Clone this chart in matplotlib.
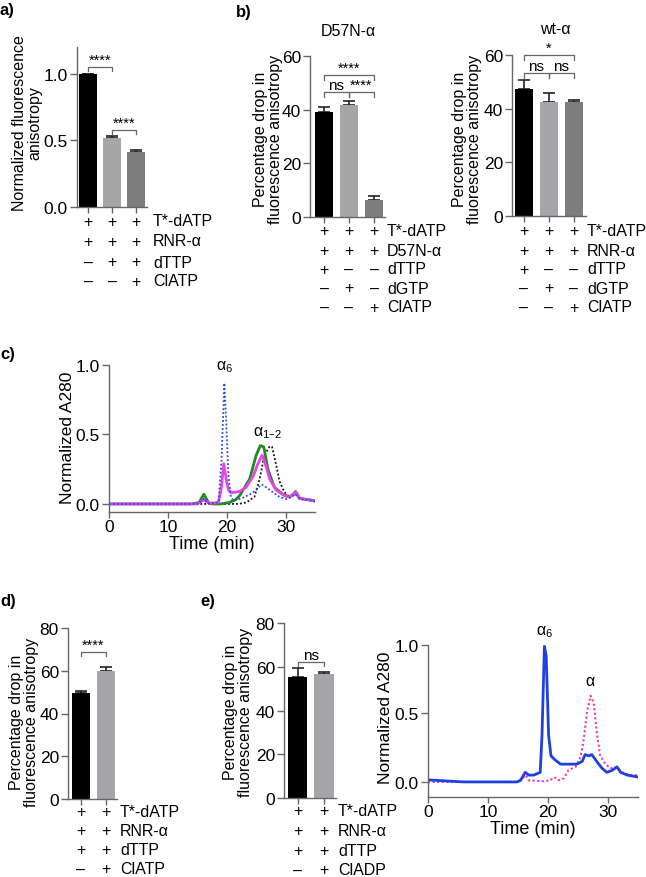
import numpy as np
import matplotlib
matplotlib.use('Agg')
import matplotlib.pyplot as plt
from matplotlib import transforms

plt.rcParams['font.family'] = ['Liberation Sans', 'DejaVu Sans']
plt.rcParams['font.size'] = 11.5
plt.rcParams['mathtext.default'] = 'regular'

# ---- data ----
# a)
a_vals = [1.0, 0.515, 0.41]
a_err = [0.0, 0.02, 0.02]
a_rows = [['+', '+', '+'], ['+', '+', '+'], ['–', '+', '+'], ['–', '–', '+']]
a_labels = ['T*-dATP', 'RNR-α', 'dTTP', 'ClATP']

# b) D57N-alpha / wt-alpha
b1_vals = [39.0, 41.8, 6.3]
b1_err = [1.9, 1.5, 1.7]
b1_rows = [['+', '+', '+'], ['+', '+', '+'], ['+', '–', '–'], ['–', '+', '–'], ['–', '–', '+']]
b1_labels = ['T*-dATP', 'D57N-α', 'dTTP', 'dGTP', 'ClATP']
b2_vals = [47.2, 42.5, 42.3]
b2_err = [3.4, 3.2, 0.9]
b2_rows = b1_rows
b2_labels = ['T*-dATP', 'RNR-α', 'dTTP', 'dGTP', 'ClATP']

# c) chromatograms
c_green_t = [0, 14, 15.3, 16.1, 16.9, 17.5, 19, 20.4, 21.5, 22.2, 23.9, 25.0, 25.7, 26.3, 27.0, 28.1,
             29.5, 30.7, 31.3, 31.7, 32.4, 34.6, 35]
c_green_v = [0, 0, 0.01, 0.07, 0.01, 0, 0, 0.01, 0.03, 0.06, 0.18, 0.35, 0.42, 0.41, 0.25, 0.12,
             0.07, 0.05, 0.07, 0.09, 0.04, 0.025, 0.02]
c_mag_t = [0, 15, 16.1, 17, 18.6, 19.1, 19.5, 19.9, 20.3, 20.8, 22.2, 23.3, 24.5, 25.3, 26.0, 26.4,
           27.3, 28.4, 29.8, 30.7, 31.7, 32.4, 34.6, 35]
c_mag_v = [0, 0, 0.03, 0.005, 0.01, 0.12, 0.29, 0.18, 0.1, 0.08, 0.09, 0.12, 0.2, 0.29, 0.35, 0.31,
           0.18, 0.1, 0.06, 0.05, 0.085, 0.04, 0.025, 0.02]
c_blue_t = [0, 15, 16.2, 16.8, 18.6, 19.1, 19.6, 19.9, 20.3, 20.7, 21.1, 22.5, 24.0, 25.0, 25.9, 26.4,
            27.8, 29.0, 30.1, 31.0, 31.7, 32.4, 34.6, 35]
c_blue_v = [0, 0, 0.04, 0.005, 0.01, 0.3, 0.87, 0.6, 0.2, 0.05, 0.025, 0.04, 0.07, 0.1, 0.14, 0.13,
            0.085, 0.05, 0.035, 0.05, 0.07, 0.035, 0.025, 0.02]
c_black_t = [0, 22, 23.3, 24.7, 25.6, 26.4, 27.3, 27.7, 28.3, 29.0, 29.8, 30.7, 31.7, 32.4, 34.6, 35]
c_black_v = [0, 0, 0.01, 0.05, 0.18, 0.35, 0.415, 0.41, 0.3, 0.16, 0.085, 0.05, 0.07, 0.04, 0.025, 0.02]

# d)
d_vals = [49.6, 60.0]
d_err = [1.1, 1.6]
d_rows = [['+', '+'], ['+', '+'], ['+', '+'], ['–', '+']]
d_labels = ['T*-dATP', 'RNR-α', 'dTTP', 'ClATP']

# e)
e_vals = [55.4, 56.7]
e_err = [3.9, 0.8]
e_rows = [['+', '+'], ['+', '+'], ['+', '+'], ['–', '+']]
e_labels = ['T*-dATP', 'RNR-α', 'dTTP', 'ClADP']
e_blue_t = [0, 5.9, 14.8, 15.4, 16.2, 16.8, 17.6, 18.7, 19.0, 19.4, 19.7, 20.1, 20.5, 21.2, 22.1, 24.8,
            25.7, 26.2, 26.8, 27.3, 28.2, 29.0, 29.8, 30.7, 31.5, 32.1, 33.2, 35]
e_blue_v = [0.015, 0, 0, 0.01, 0.07, 0.05, 0.05, 0.07, 0.34, 0.99, 0.92, 0.34, 0.19, 0.16, 0.13, 0.13,
            0.15, 0.2, 0.19, 0.2, 0.145, 0.1, 0.07, 0.085, 0.11, 0.07, 0.05, 0.036]
e_pink_t = [0, 14.8, 16.0, 16.3, 16.8, 19.3, 20.4, 21.0, 21.8, 22.6, 23.4, 24.6, 25.4, 25.9, 26.5, 27.1,
            27.6, 28.2, 28.7, 29.6, 30.4, 31.5, 32.3, 33.7, 35]
e_pink_v = [0, 0, 0.035, 0.05, 0.012, 0.005, 0.012, 0.035, 0.012, 0.025, 0.085, 0.11, 0.18, 0.29, 0.51,
            0.63, 0.58, 0.34, 0.19, 0.13, 0.1, 0.11, 0.07, 0.05, 0.05]

W, H = 646, 878
fig = plt.figure(figsize=(W / 100, H / 100), dpi=100)
SPINE = '#666666'
TICK_FS = 12.5


def add_ax(left, right, top, bottom):
    return fig.add_axes([left / W, 1 - bottom / H, (right - left) / W, (bottom - top) / H])


def style(ax):
    for s in ['top', 'right']:
        ax.spines[s].set_visible(False)
    for s in ['left', 'bottom']:
        ax.spines[s].set_color(SPINE)
        ax.spines[s].set_linewidth(1.0)
    ax.tick_params(color=SPINE, length=5, width=1.0, labelsize=TICK_FS, pad=1.5)


def bars(ax, vals, errs, colors, xlim, ylim, yticks, fmt='{:g}'):
    x = np.arange(len(vals))
    ax.errorbar(x, vals, yerr=[np.zeros(len(vals)), errs], fmt='none', ecolor='#222222',
                elinewidth=1.2, capsize=4, capthick=1.2, zorder=1)
    ax.bar(x, vals, width=0.74, color=colors, zorder=2)
    ax.set_xlim(*xlim)
    ax.set_ylim(*ylim)
    ax.set_xticks(x)
    ax.set_xticklabels([])
    ax.set_yticks(yticks)
    ax.set_yticklabels([fmt.format(v) for v in yticks])
    style(ax)
    ax.tick_params(axis='x', length=4)


def bracket(ax, x1, x2, y, h, text, fs=10.5):
    ax.plot([x1, x1, x2, x2], [y - h, y, y, y - h], color=SPINE, lw=0.9, clip_on=False)
    ax.text((x1 + x2) / 2, y, text, ha='center', va='bottom', fontsize=fs, clip_on=False)


def table(ax, rows, labels, ys, label_x):
    trans = transforms.blended_transform_factory(ax.transData, fig.transFigure)
    for row, lab, ypx in zip(rows, labels, ys):
        y = 1 - ypx / H
        for i, s in enumerate(row):
            ax.text(i, y, s, transform=trans, ha='center', va='center', fontsize=11.5)
        fig.text(label_x / W, y, lab, ha='left', va='center', fontsize=11.5)


def ylabel(text, xpx, ypx, fs=11.5):
    fig.text(xpx / W, 1 - ypx / H, text, rotation=90, ha='center', va='center',
             fontsize=fs, linespacing=1.05, multialignment='center')


def panel(x, y, s):
    fig.text(x / W, 1 - y / H, s, fontsize=12, fontweight='bold', ha='left', va='center')


def chrom_axes(ax, ymin):
    ax.set_xlim(0, 35)
    ax.set_ylim(ymin, 1.0)
    ax.set_xticks([0, 10, 20, 30])
    ax.set_yticks([0.0, 0.5, 1.0])
    ax.set_yticklabels(['0.0', '0.5', '1.0'])
    style(ax)
    ax.tick_params(axis='x', length=4, pad=1)
    ax.set_xlabel('Time (min)', fontsize=13, labelpad=1)


# ---- a) ----
ax = add_ax(77, 147, 48, 208)
bars(ax, a_vals, a_err, ['#000000', '#a6a6a8', '#7d7d7d'], (-0.46, 2.46), (0, 1.2),
     [0.0, 0.5, 1.0], '{:.1f}')
bracket(ax, 0, 1, 1.05, 0.03, '****')
bracket(ax, 1, 2, 0.58, 0.03, '****')
table(ax, a_rows, a_labels, [222, 242, 263, 282], 153)
ylabel('Normalized fluorescence\nanisotropy', 27, 123)
panel(0, 11, 'a)')

# ---- b) ----
ax = add_ax(310, 385, 57, 218)
bars(ax, b1_vals, b1_err, ['#000000', '#a6a6a8', '#7d7d7d'], (-0.56, 2.44), (0, 60), [0, 20, 40, 60])
bracket(ax, 0, 2, 52.9, 1.8, '****')
bracket(ax, 0, 1, 46.5, 1.8, 'ns', 11)
bracket(ax, 1, 2, 46.5, 1.8, '****')
table(ax, b1_rows, b1_labels, [232, 252, 270, 289, 308], 387)
ylabel('Percentage drop in\nfluorescence anisotropy', 268, 139)
fig.text(348 / W, 1 - 32 / H, 'D57N-α', ha='center', va='center', fontsize=11.5)
panel(236, 12, 'b)')

ax = add_ax(512, 586, 56, 217)
bars(ax, b2_vals, b2_err, ['#000000', '#a6a6a8', '#7d7d7d'], (-0.47, 2.48), (0, 60), [0, 20, 40, 60])
bracket(ax, 0, 2, 60.0, 1.8, '*')
bracket(ax, 0, 1, 53.4, 1.8, 'ns', 11)
bracket(ax, 1, 2, 53.4, 1.8, 'ns', 11)
table(ax, b2_rows, b2_labels, [232, 252, 270, 289, 308], 587)
ylabel('Percentage drop in\nfluorescence anisotropy', 467, 139)
fig.text(555 / W, 1 - 30 / H, 'wt-α', ha='center', va='center', fontsize=11.5)

# ---- c) ----
ax = add_ax(109, 315, 366, 513)
ax.plot(c_black_t, c_black_v, color='#111111', lw=1.3, ls=(0, (1, 1.2)))
ax.plot(c_green_t, c_green_v, color='#1f8a1f', lw=2.0)
ax.plot(c_mag_t, c_mag_v, color='#e845e8', lw=2.0)
ax.plot(c_blue_t, c_blue_v, color='#2a4be0', lw=1.3, ls=(0, (1, 1.2)))
chrom_axes(ax, -0.058)
ylabel('Normalized A280', 67, 438, 12.5)
ax.text(19.6, 0.99, 'α$_6$', ha='center', va='center', fontsize=11.5)
ax.text(27.0, 0.52, 'α$_{1–2}$', ha='center', va='center', fontsize=11.5)
panel(0, 355, 'c)')

# ---- d) ----
ax = add_ax(68, 117, 629, 800)
bars(ax, d_vals, d_err, ['#000000', '#a6a6a8'], (-0.52, 1.44), (0, 80), [0, 20, 40, 60, 80])
bracket(ax, 0, 1, 68.8, 2.0, '****')
table(ax, d_rows, d_labels, [813, 832, 851, 870], 120)
ylabel('Percentage drop in\nfluorescence anisotropy', 24, 722)
panel(0, 602, 'd)')

# ---- e) ----
ax = add_ax(284, 336, 624, 799)
bars(ax, e_vals, e_err, ['#000000', '#a6a6a8'], (-0.52, 1.45), (0, 80), [0, 20, 40, 60, 80])
bracket(ax, 0, 1, 62.3, 2.0, 'ns', 11)
table(ax, e_rows, e_labels, [812, 832, 852, 871], 338)
ylabel('Percentage drop in\nfluorescence anisotropy', 238, 712)
panel(200, 602, 'e)')

ax = add_ax(428, 638, 646, 798)
ax.plot(e_pink_t, e_pink_v, color='#f0379a', lw=1.5, ls=(0, (1, 1.2)))
ax.plot(e_blue_t, e_blue_v, color='#1f3fe0', lw=2.0)
chrom_axes(ax, -0.11)
ylabel('Normalized A280', 385, 718, 12.5)
ax.text(19.5, 1.1, 'α$_6$', ha='center', va='center', fontsize=11.5)
ax.text(27.0, 0.74, 'α', ha='center', va='center', fontsize=11.5)

fig.savefig('out.png', dpi=100)
plt.close(fig)
